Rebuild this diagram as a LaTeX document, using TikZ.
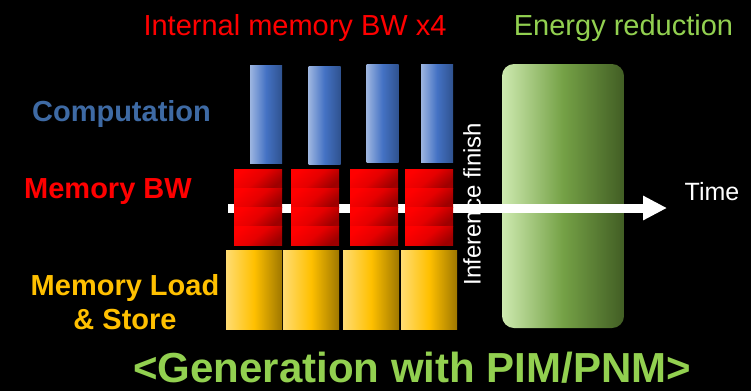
\documentclass[tikz,border=0pt]{standalone}
\usepackage{fontspec}
\setmainfont{Liberation Sans}
\usetikzlibrary{arrows.meta}
\definecolor{compblue}{HTML}{3E6AA4}
\definecolor{bluelight}{HTML}{9DB5E0}
\definecolor{bluemid}{HTML}{4472C4}
\definecolor{bluedark}{HTML}{2F528F}
\definecolor{bwred}{HTML}{FF0000}
\definecolor{loadyellow}{HTML}{FFC000}
\definecolor{energygreen}{HTML}{92D050}

\begin{document}
\begin{tikzpicture}[
    x=1pt, y=-1pt,
    compbar/.style={
        inner sep=0pt,
        minimum width=32pt,
        minimum height=98pt,
        left color=bluelight,
        right color=bluedark,
        middle color=bluemid
    },
    bwstripe/.style={
        inner sep=0pt,
        minimum width=48pt,
        minimum height=19pt,
        top color=bwred,
        bottom color=bwred!62!black,
        middle color=bwred!90!black,
        shading angle=40
    },
    loadbox/.style={
        inner sep=0pt,
        minimum width=56pt,
        minimum height=79pt,
        left color=loadyellow!55!white,
        right color=loadyellow!62!black,
        middle color=loadyellow
    },
    energybox/.style={
        inner sep=0pt,
        rounded corners=12pt,
        minimum width=122pt,
        minimum height=264pt,
        left color=energygreen!45!white,
        right color=energygreen!45!black,
        middle color=energygreen!75!black!95
    },
    label/.style={font=\bfseries\fontsize{29}{33}\selectfont, anchor=base},
    toplabel/.style={font=\fontsize{29}{33}\selectfont, anchor=base},
    timearrow/.style={white, line width=9pt, -{Triangle[length=24pt,width=23pt]}}
]

% Background and frame
\fill[black] (0,0) rectangle (751,391);
\useasboundingbox (0,0) rectangle (751,391);

% Headlines
\node[toplabel, text=bwred] (bwx4) at (295,35) {Internal memory BW x4};
\node[toplabel, text=energygreen] (energytxt) at (623.5,35) {Energy reduction};

% Row labels
\node[label, text=compblue] (comptxt) at (121.5,121) {Computation};
\node[label, text=bwred] (bwtxt) at (108,198) {Memory BW};
\node[label, text=loadyellow, align=center] (loadtxt) at (125,329) {Memory Load\\[1pt] \& Store};

% Energy reduction window
\node[energybox] (energy) at (563,196) {};

% Inference finish marker
\node[text=white, rotate=90, font=\fontsize{24}{28}\selectfont] (finish) at (472,204) {Inference finish};

% Time axis
\coordinate (tstart) at (228,208);
\coordinate (tend) at (667,208);
\draw[timearrow] (tstart) -- (tend);
\node[text=white, anchor=base, font=\fontsize{25}{29}\selectfont] (timetxt) at (712,200) {Time};

% Computation bars
\foreach \i/\x/\y in {1/266/114,2/324.5/115,3/382.5/113,4/437/113} {
    \node[compbar] (c\i) at (\x,\y) {};
}

% Memory BW stacks
\foreach \i/\x in {1/258,2/315,3/374,4/429} {
    \foreach \j/\y in {1/178.5,2/197.5,3/216.5,4/235.5} {
        \node[bwstripe] (m\i\j) at (\x,\y) {};
    }
}

% Memory load and store blocks
\foreach \i/\x in {1/254,2/311,3/371,4/429} {
    \node[loadbox] (l\i) at (\x,289.5) {};
}

% Caption
\node[text=energygreen, anchor=base, inner sep=0pt, font=\bfseries\fontsize{42}{46}\selectfont] (caption) at (412,382) {<Generation with PIM/PNM>};

\end{tikzpicture}
\end{document}
